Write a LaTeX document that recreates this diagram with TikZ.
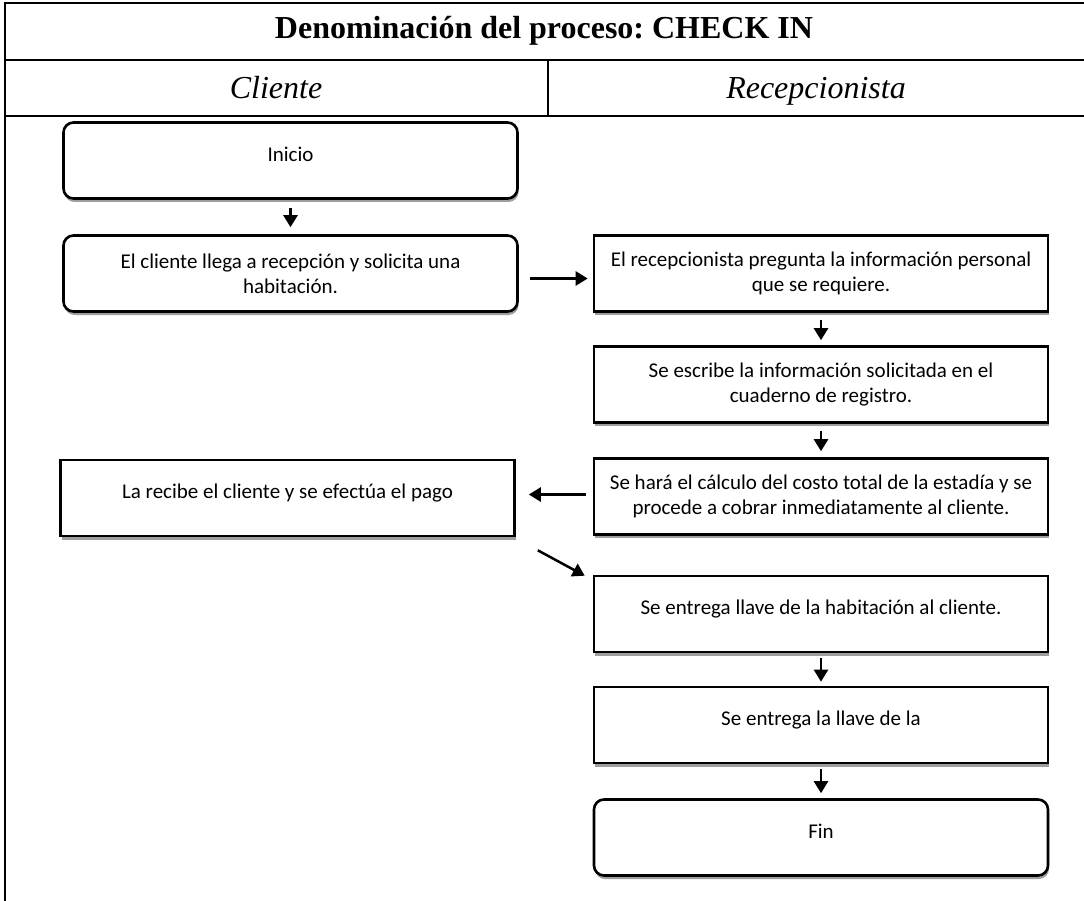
\documentclass[tikz,border=0pt]{standalone}
\usepackage{fontspec}
\setmainfont{Liberation Serif}
\newfontfamily\boxfont{Carlito}
\usetikzlibrary{arrows.meta,shadows,calc}
\frenchspacing

\tikzset{
    proc/.style={draw, line width=2.6pt, fill=white, minimum width=454pt, minimum height=76pt,
        inner sep=0pt, align=center, font=\boxfont\fontsize{21}{25}\selectfont,
        drop shadow={shadow xshift=1pt, shadow yshift=-3.5pt, fill=black!38, opacity=1}},
    term/.style={proc, rounded corners=10pt},
    oneline/.style={text depth=13pt},
    flow/.style={-{Triangle[length=12pt,width=14pt]}, line width=2.5pt},
    laneline/.style={line width=2.3pt},
    headtext/.style={anchor=base, font=\fontsize{32}{38}\selectfont}
}

\begin{document}
\begin{tikzpicture}[x=1pt, y=-1pt]
    \fill[white] (0,0) rectangle (1084,901);
    \useasboundingbox (0,0) rectangle (1084,901);

    % Table frame
    \draw[laneline] (5,901) -- (5,3) -- (1084,3);
    \draw[laneline] (5,60) -- (1084,60);
    \draw[laneline] (5,116) -- (1084,116);
    \draw[line width=1.6pt] (548,60) -- (548,116);

    \node[headtext, font=\fontsize{32}{38}\selectfont\bfseries] (title) at (544,39) {Denominación del proceso: CHECK IN};
    \node[headtext, font=\fontsize{32}{38}\selectfont\itshape] (cliente) at (276,99) {Cliente};
    \node[headtext, font=\fontsize{32}{38}\selectfont\itshape] (recep) at (816,99) {Recepcionista};

    % Cliente lane
    \node[term, oneline] (ini) at (290.5,160.5) {Inicio};
    \node[term] (cli) at (290.5,273.5) {El cliente llega a recepción y solicita una\\habitación.};
    \node[proc, oneline] (pago) at (287.5,498) {La recibe el cliente y se efectúa el pago};

    % Recepcionista lane
    \node[proc] (rec1) at (821,273.5) {El recepcionista pregunta la información personal\\que se requiere.};
    \node[proc] (rec2) at (821,384.5) {Se escribe la información solicitada en el\\cuaderno de registro.};
    \node[proc] (rec3) at (821,496.5) {Se hará el cálculo del costo total de la estadía y se\\procede a cobrar inmediatamente al cliente.};
    \node[proc, oneline] (rec4) at (821,614) {Se entrega llave de la habitación al cliente.};
    \node[proc, oneline] (rec5) at (821,725) {Se entrega la llave de la};
    \node[term, oneline] (fin) at (821,837.5) {Fin};

    % Arrows
    \draw[flow, shorten <=8pt, shorten >=7pt] (ini) -- (cli);
    \draw[flow, shorten <=11pt, shorten >=5pt] ([yshift=-5pt]cli.east) -- ([yshift=-5pt]rec1.west);
    \draw[flow, shorten <=7pt, shorten >=5pt] (rec1) -- (rec2);
    \draw[flow, shorten <=7pt, shorten >=6pt] (rec2) -- (rec3);
    \draw[flow, shorten <=7pt, shorten >=13pt] ([yshift=2pt]rec3.west) -- ([yshift=3.5pt]pago.east);
    \draw[flow] ($(pago.south east)+(22,13)$) -- ($(rec4.north west)+(-8,1)$);
    \draw[flow, shorten <=5pt, shorten >=4pt] (rec4) -- (rec5);
    \draw[flow, shorten <=5pt, shorten >=5pt] (rec5) -- (fin);
\end{tikzpicture}
\end{document}
